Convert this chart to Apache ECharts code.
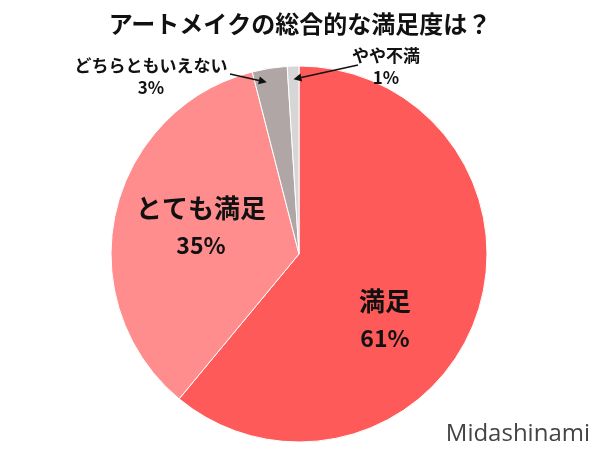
<!DOCTYPE html>
<html><head><meta charset="utf-8">
<script src="https://cdn.jsdelivr.net/npm/echarts@6/dist/echarts.min.js"></script>
<style>html,body{margin:0;padding:0;background:#fff}#c{width:600px;height:450px}</style>
</head><body><div id="c"></div>
<script>
var titleText = 'アートメイクの総合的な満足度は？';
var categories = ['満足', 'とても満足', 'どちらともいえない', 'やや不満'];
var values = [61, 35, 3, 1];
var colors = ['#FF5A5A', '#FF8D8D', '#B0A6A6', '#D6D6D6'];
var watermark = 'Midashinami';

var FONT = '"Noto Sans CJK JP", "Noto Sans", sans-serif';
// label anchor positions (centres of label blocks)
var labelPos = [[385, 320], [201, 227], [151, 77], [386, 67]];
var arrowTails = [null, null, [230, 74], [358, 65]];
var arrowAngleFrac = [0.5, 0.5, 0.35, 0.5];

var chart = echarts.init(document.getElementById('c'));
var data = categories.map(function (n, i) {
  var big = i < 2;
  return {
    name: n, value: values[i],
    itemStyle: { color: colors[i] },
    label: big ? {
      position: 'inside',
      formatter: '{n|{b}}\n{p|{c}%}',
      rich: {
        n: { fontSize: 26, fontWeight: 'bold', color: '#111', fontFamily: FONT, lineHeight: 37 },
        p: { fontSize: 23, fontWeight: 'bold', color: '#111', fontFamily: FONT, lineHeight: 37 }
      }
    } : {
      position: 'outside',
      formatter: '{n|{b}}\n{p|{c}%}',
      rich: {
        n: { fontSize: 17, fontWeight: 'bold', color: '#111', fontFamily: FONT, lineHeight: 22 },
        p: { fontSize: 17, fontWeight: 'bold', color: '#111', fontFamily: FONT, lineHeight: 22 }
      }
    }
  };
});

chart.setOption({
  animation: false,
  backgroundColor: '#fff',
  title: {
    text: titleText, left: 'center', top: 7,
    textStyle: { fontSize: 24, fontWeight: 'bold', color: '#111', fontFamily: FONT }
  },
  series: [{
    type: 'pie',
    center: [299, 254],
    radius: [0, 188],
    startAngle: 90,
    clockwise: true,
    avoidLabelOverlap: false,
    itemStyle: { borderColor: '#fff', borderWidth: 1 },
    labelLine: { show: false },
    label: { align: 'center' },
    labelLayout: function (p) {
      var pos = labelPos[p.dataIndex];
      return { x: pos[0], y: pos[1], align: 'center', verticalAlign: 'middle' };
    },
    data: data
  }]
});

// arrows from small-slice labels to their slices, tips from the pie layout
var graphics = [];
try {
  var sd = chart.getModel().getSeriesByIndex(0).getData();
  for (var i = 0; i < values.length; i++) {
    if (!arrowTails[i]) continue;
    var L = sd.getItemLayout(i);
    var f = arrowAngleFrac[i];
    var mid = L.startAngle + (L.endAngle - L.startAngle) * f;
    var rr = L.r * 0.93;
    var tip = [L.cx + rr * Math.cos(mid), L.cy + rr * Math.sin(mid)];
    var t = arrowTails[i];
    var dx = tip[0] - t[0], dy = tip[1] - t[1];
    var len = Math.sqrt(dx * dx + dy * dy); dx /= len; dy /= len;
    var hl = 8, hw = 4;
    var bx = tip[0] - dx * hl, by = tip[1] - dy * hl;
    graphics.push({
      type: 'line', shape: { x1: t[0], y1: t[1], x2: bx, y2: by },
      style: { stroke: '#111', lineWidth: 1.5 }, z: 100
    });
    graphics.push({
      type: 'polygon',
      shape: { points: [tip, [bx - dy * hw, by + dx * hw], [bx + dy * hw, by - dx * hw]] },
      style: { fill: '#111' }, z: 100
    });
  }
} catch (e) {}
graphics.push({
  type: 'text', right: 10, bottom: 4,
  style: { text: watermark, fontSize: 24, fill: '#444', fontFamily: '"Open Sans", "Noto Sans", sans-serif' },
  z: 100
});
chart.setOption({ graphic: graphics });
</script></body></html>
